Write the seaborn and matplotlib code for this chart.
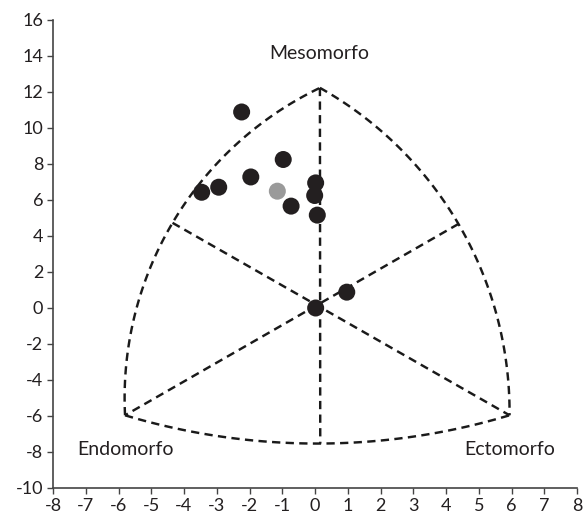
import numpy as np
import pandas as pd
import matplotlib
matplotlib.use("Agg")
import matplotlib.pyplot as plt
import seaborn as sns

# Somatotype coordinates (X = ecto - endo, Y = 2*meso - endo - ecto)
som_x = [-2.24, -0.97, -1.96, -2.94, -3.46, -1.15, -0.73, 0.02, -0.01, 0.07, 0.02, 0.97]
som_y = [10.89, 8.25, 7.28, 6.71, 6.43, 6.49, 5.66, 6.95, 6.25, 5.16, 0.0, 0.88]
group = ["atleta"] * 5 + ["media"] + ["atleta"] * 6

# Somatochart frame: vertices, arc midpoints and centre
vertex_meso = (0.15, 12.23)
vertex_endo = (-5.80, -5.96)
vertex_ecto = (5.94, -5.96)
arc_left_mid = (-4.35, 4.73)
arc_right_mid = (4.38, 4.67)
arc_bottom_mid = (0.16, -7.53)

region_labels = ["Mesomorfo", "Endomorfo", "Ectomorfo"]
label_pos = [(0.14, 14.15), (-5.8, -7.85), (5.93, -7.85)]

x_ticks = list(range(-8, 9))
y_ticks = list(range(-10, 17, 2))

sns.set_style("ticks")
plt.rcParams["font.family"] = ["Lato", "DejaVu Sans"]
plt.rcParams["axes.unicode_minus"] = False

fig = plt.figure(figsize=(5.84, 5.16), dpi=100)
ax = fig.add_axes([53 / 584, 28 / 516, 524 / 584, 468 / 516])
ax.set_xlim(-8, 8)
ax.set_ylim(-10, 16)

dash = (0, (3.4, 2.2))
line_kw = dict(color="#1a1a1a", lw=1.75, linestyle=dash, zorder=1)


def arc_through(p0, p1, p2, n=120):
    """Circular arc (in screen space) through three data points."""
    T = ax.transData
    a, b, c = (np.asarray(T.transform(p)) for p in (p0, p1, p2))
    ax_, ay = a
    bx, by = b
    cx, cy = c
    d = 2 * (ax_ * (by - cy) + bx * (cy - ay) + cx * (ay - by))
    ux = ((ax_**2 + ay**2) * (by - cy) + (bx**2 + by**2) * (cy - ay) + (cx**2 + cy**2) * (ay - by)) / d
    uy = ((ax_**2 + ay**2) * (cx - bx) + (bx**2 + by**2) * (ax_ - cx) + (cx**2 + cy**2) * (bx - ax_)) / d
    r = np.hypot(ax_ - ux, ay - uy)
    t0 = np.arctan2(ay - uy, ax_ - ux)
    t1 = np.arctan2(by - uy, bx - ux)
    t2 = np.arctan2(cy - uy, cx - ux)

    def norm(t):
        return (t - t0) % (2 * np.pi)
    if norm(t1) < norm(t2):
        ts = np.linspace(t0, t0 + norm(t2), n)
    else:
        ts = np.linspace(t0, t0 - (2 * np.pi - norm(t2)), n)
    pts = np.column_stack([ux + r * np.cos(ts), uy + r * np.sin(ts)])
    return T.inverted().transform(pts)


for p0, pm, p2 in [(vertex_endo, arc_left_mid, vertex_meso),
                   (vertex_meso, arc_right_mid, vertex_ecto),
                   (vertex_endo, arc_bottom_mid, vertex_ecto)]:
    seg = arc_through(p0, pm, p2)
    ax.plot(seg[:, 0], seg[:, 1], **line_kw)

# Dividing lines
for p, q in [(vertex_meso, arc_bottom_mid),
             (arc_left_mid, vertex_ecto),
             (arc_right_mid, vertex_endo)]:
    ax.plot([p[0], q[0]], [p[1], q[1]], **line_kw)

df = pd.DataFrame({"x": som_x, "y": som_y, "grupo": group})
sns.scatterplot(data=df, x="x", y="y", hue="grupo",
                palette={"atleta": "#231f20", "media": "#9a9a9a"},
                s=150, edgecolor="none", legend=False, ax=ax, zorder=3)

for txt, (tx, ty) in zip(region_labels, label_pos):
    ax.text(tx, ty, txt, ha="center", va="center", fontsize=14, color="#231f20")

ax.set_xticks(x_ticks)
ax.set_yticks(y_ticks)
ax.tick_params(axis="both", direction="out", length=4, width=1, color="#444444",
               labelsize=13, labelcolor="#231f20", pad=3)
ax.set_xlabel("")
ax.set_ylabel("")
for side in ("top", "right"):
    ax.spines[side].set_visible(False)
for side in ("left", "bottom"):
    ax.spines[side].set_color("#444444")
    ax.spines[side].set_linewidth(1.2)

fig.savefig("out.png", dpi=100)
